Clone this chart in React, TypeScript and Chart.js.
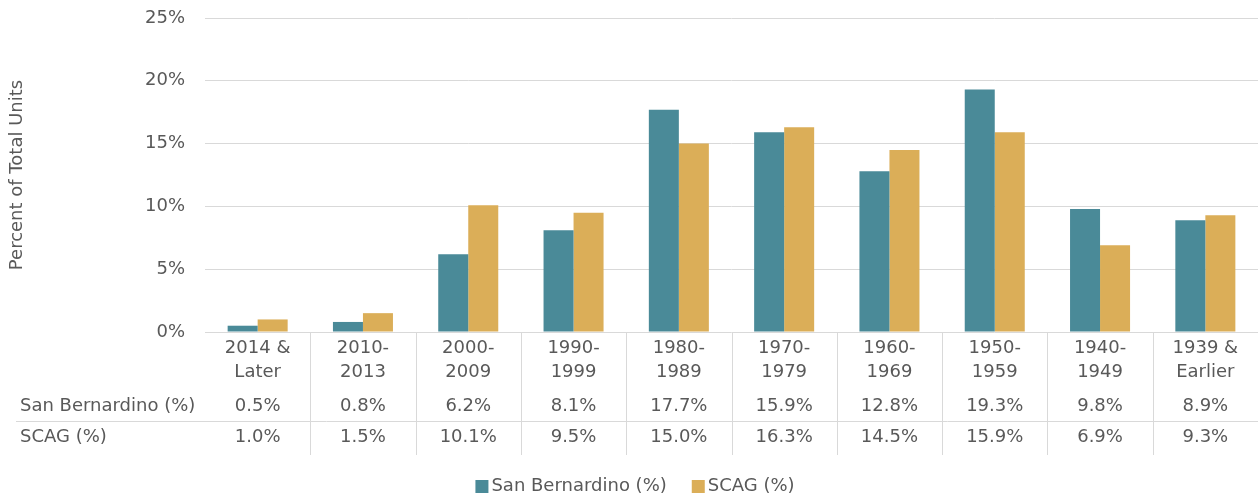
import React, { useEffect, useRef } from "react";
import { Chart, registerables } from "chart.js";

Chart.register(...registerables);

const categories: string[][] = [
  ["2014 &", "Later"],
  ["2010-", "2013"],
  ["2000-", "2009"],
  ["1990-", "1999"],
  ["1980-", "1989"],
  ["1970-", "1979"],
  ["1960-", "1969"],
  ["1950-", "1959"],
  ["1940-", "1949"],
  ["1939 &", "Earlier"],
];
const sanBernardino = [0.5, 0.8, 6.2, 8.1, 17.7, 15.9, 12.8, 19.3, 9.8, 8.9];
const scag = [1.0, 1.5, 10.1, 9.5, 15.0, 16.3, 14.5, 15.9, 6.9, 9.3];
const seriesNames = ["San Bernardino (%)", "SCAG (%)"];
const seriesColors = ["#4A8A98", "#DBAE58"];
const yAxisTitle = "Percent of Total Units";
const yMax = 25;
const yStep = 5;

const FONT = "'DejaVu Sans', sans-serif";
const TEXT = "#595959";
const GRID = "#D9D9D9";

const tablePlugin = {
  id: "dataTable",
  afterDraw(chart: any) {
    const { ctx, chartArea, scales } = chart;
    const x = scales.x;
    const n = categories.length;
    const bottom = chartArea.bottom;
    const row1 = bottom + 74;
    const row2 = bottom + 105;
    const sepY = bottom + 89;
    const tableBottom = bottom + 123;
    ctx.save();
    ctx.strokeStyle = GRID;
    ctx.lineWidth = 1;
    ctx.beginPath();
    for (let i = 0; i < n - 1; i++) {
      const xb = Math.round((x.getPixelForValue(i) + x.getPixelForValue(i + 1)) / 2) + 0.5;
      ctx.moveTo(xb, bottom);
      ctx.lineTo(xb, tableBottom);
    }
    ctx.moveTo(16, Math.round(sepY) + 0.5);
    ctx.lineTo(chartArea.right, Math.round(sepY) + 0.5);
    ctx.stroke();

    ctx.fillStyle = TEXT;
    ctx.font = `18px ${FONT}`;
    ctx.textBaseline = "middle";
    ctx.textAlign = "left";
    ctx.fillText(seriesNames[0], 20, row1);
    ctx.fillText(seriesNames[1], 20, row2);
    ctx.textAlign = "center";
    for (let i = 0; i < n; i++) {
      const cx = x.getPixelForValue(i);
      ctx.fillText(sanBernardino[i].toFixed(1) + "%", cx, row1);
      ctx.fillText(scag[i].toFixed(1) + "%", cx, row2);
    }

    // legend
    const legendY = 486;
    const box = 13;
    const gap = 3;
    const itemGap = 25;
    const widths = chart.data.datasets.map((d: any) => box + gap + ctx.measureText(d.label).width);
    const total = widths.reduce((a: number, b: number) => a + b, 0) + itemGap * (widths.length - 1);
    let lx = chart.width / 2 + 5 - total / 2;
    ctx.textAlign = "left";
    chart.data.datasets.forEach((d: any, i: number) => {
      ctx.fillStyle = d.backgroundColor;
      ctx.fillRect(lx, legendY - 6, box, box);
      ctx.fillStyle = TEXT;
      ctx.fillText(d.label, lx + box + gap, legendY);
      lx += widths[i] + itemGap;
    });
    ctx.restore();
  },
};

export default function App() {
  const ref = useRef<HTMLCanvasElement | null>(null);
  useEffect(() => {
    document.body.style.margin = "0";
    const canvas = ref.current;
    if (!canvas) return;
    const chart = new Chart(canvas, {
      type: "bar",
      data: {
        labels: categories as any,
        datasets: [
          {
            label: seriesNames[0],
            data: sanBernardino,
            backgroundColor: seriesColors[0],
            categoryPercentage: 0.57,
            barPercentage: 1.0,
          },
          {
            label: seriesNames[1],
            data: scag,
            backgroundColor: seriesColors[1],
            categoryPercentage: 0.57,
            barPercentage: 1.0,
          },
        ],
      },
      options: {
        responsive: false,
        animation: false,
        layout: { padding: { top: 18, right: 2, bottom: 0, left: 0 } },
        plugins: {
          legend: { display: false },
          tooltip: { enabled: false },
        },
        scales: {
          x: {
            grid: { display: false, drawTicks: false },
            border: { display: false },
            ticks: {
              color: TEXT,
              font: { family: FONT, size: 18, lineHeight: 24 / 18 },
              padding: 4,
              maxRotation: 0,
              autoSkip: false,
            },
            afterFit(scale: any) {
              scale.height = 165;
            },
          },
          y: {
            min: 0,
            max: yMax,
            grid: {
              color: GRID,
              lineWidth: 1,
              drawTicks: true,
              tickLength: 16,
              tickColor: "rgba(0,0,0,0)",
            },
            border: { display: false },
            ticks: {
              stepSize: yStep,
              color: TEXT,
              padding: 4,
              font: { family: FONT, size: 18 },
              callback: (v: any) => v + "%",
            },
            title: {
              display: true,
              text: yAxisTitle,
              color: TEXT,
              font: { family: FONT, size: 18 },
              padding: { top: 7, bottom: 0 },
            },
            afterFit(scale: any) {
              scale.width = 205;
            },
          },
        },
      },
      plugins: [tablePlugin],
    });
    return () => chart.destroy();
  }, []);
  return (
    <div style={{ position: "absolute", left: 0, top: 0, width: 1260, height: 497 }}>
      <canvas ref={ref} width={1260} height={497} />
    </div>
  );
}
